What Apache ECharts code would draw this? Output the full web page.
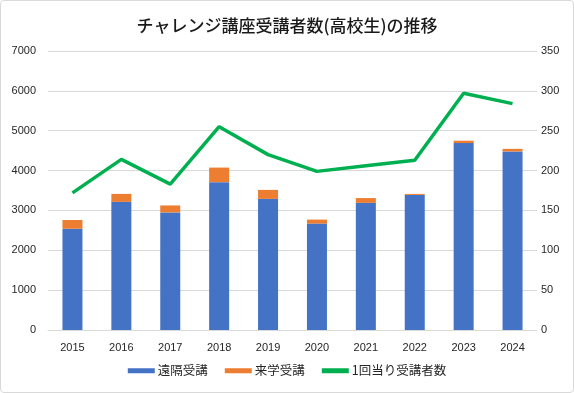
<!DOCTYPE html>
<html><head><meta charset="utf-8">
<script src="https://cdn.jsdelivr.net/npm/echarts@6/dist/echarts.min.js"></script>
<style>
html,body{margin:0;padding:0;background:#fff;}
#wrap{position:absolute;left:0;top:0;width:572px;height:391px;border:1px solid #d9d9d9;border-radius:4px;}
#c{width:574px;height:393px;position:absolute;left:0;top:0;}
</style></head>
<body><div id="wrap"></div><div id="c"></div>
<script>
const years = ['2015','2016','2017','2018','2019','2020','2021','2022','2023','2024'];
const remote = [2540, 3215, 2950, 3710, 3290, 2670, 3190, 3390, 4690, 4480];
const onsite = [220, 200, 175, 365, 225, 100, 120, 25, 60, 65];
const perSession = [172, 214, 183, 255, 220, 199, 206, 213, 297, 284];
const names = ['遠隔受講', '来学受講', '1回当り受講者数'];
const font = '"Noto Sans CJK JP", "Noto Sans", sans-serif';
const numFont = '"Liberation Sans", Arial, sans-serif';
const chart = echarts.init(document.getElementById('c'));
chart.setOption({
  animation: false,
  textStyle: {fontFamily: font},
  title: {text: 'チャレンジ講座受講者数(高校生)の推移', left: 'center', top: 12,
    textStyle: {fontSize: 17, fontWeight: 500, color: '#1a1a1a', fontFamily: font}},
  legend: {bottom: 11, left: 'center', itemGap: 17, itemWidth: 27, itemHeight: 5,
    textStyle: {fontSize: 12.5, color: '#262626', fontFamily: font, padding: [0, 0, 0, -2]},
    data: [{name: names[0], icon: 'rect'}, {name: names[1], icon: 'rect'}, {name: names[2], icon: 'rect'}]},
  grid: {left: 48, right: 37, top: 51, bottom: 63, containLabel: false},
  xAxis: {type: 'category', data: years,
    axisLine: {lineStyle: {color: '#d9d9d9'}}, axisTick: {show: false},
    axisLabel: {color: '#262626', fontSize: 11, margin: 12, fontFamily: numFont}},
  yAxis: [
    {type: 'value', min: 0, max: 7000, interval: 1000,
      axisLabel: {color: '#262626', fontSize: 11, margin: 12, fontFamily: numFont, formatter: v => String(v)},
      splitLine: {lineStyle: {color: '#d9d9d9'}}, axisLine: {show: false}, axisTick: {show: false}},
    {type: 'value', min: 0, max: 350, interval: 50,
      axisLabel: {color: '#262626', fontSize: 11, margin: 4, fontFamily: numFont, formatter: v => String(v)},
      splitLine: {show: false}, axisLine: {show: false}, axisTick: {show: false}}
  ],
  series: [
    {name: names[0], type: 'bar', stack: 's', data: remote, barWidth: 20, itemStyle: {color: '#4472c4'}},
    {name: names[1], type: 'bar', stack: 's', data: onsite, barWidth: 20, itemStyle: {color: '#ed7d31'}},
    {name: names[2], type: 'line', yAxisIndex: 1, data: perSession, symbol: 'none',
      lineStyle: {color: '#00b050', width: 3.5}, itemStyle: {color: '#00b050'}}
  ]
});
</script></body></html>
